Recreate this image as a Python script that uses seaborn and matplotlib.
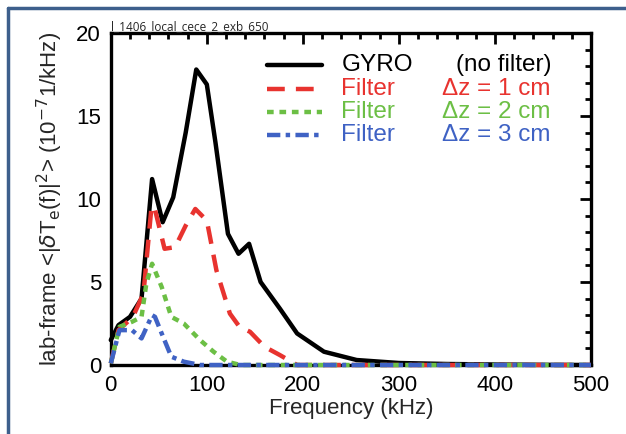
import matplotlib
matplotlib.use('Agg')
import matplotlib.pyplot as plt
from matplotlib.lines import Line2D
from matplotlib.ticker import MultipleLocator
import seaborn as sns

sns.set_style("white")
plt.rcParams['font.family'] = ['Liberation Sans', 'DejaVu Sans']

# spectra (kHz, 1e-7 1/kHz)
gyro_x = [0, 8, 20, 32, 43, 54, 65, 78, 89, 100, 109, 122, 133, 144, 156, 176, 194, 222, 256, 300, 350, 400, 450, 500]
gyro_y = [1.5, 2.4, 2.9, 4.0, 11.2, 8.6, 10.1, 14.0, 17.8, 16.9, 13.4, 7.9, 6.7, 7.3, 5.0, 3.4, 1.9, 0.8, 0.3, 0.12, 0.06, 0.03, 0.01, 0.0]

dz1_x = [0, 8, 23, 34, 42, 45, 56, 67, 78, 88, 100, 110, 124, 134, 145, 160, 176, 194, 250, 500]
dz1_y = [0.1, 2.1, 2.9, 4.3, 9.3, 9.6, 7.0, 7.1, 8.4, 9.4, 8.7, 5.7, 3.1, 2.3, 2.0, 1.1, 0.6, 0.0, 0.0, 0.0]

dz2_x = [0, 9, 22, 32, 37, 43, 53, 63, 76, 93, 107, 121, 135, 500]
dz2_y = [0.1, 2.3, 2.6, 2.9, 4.9, 6.1, 4.7, 2.9, 2.5, 1.5, 0.8, 0.2, 0.0, 0.0]

dz3_x = [0, 9, 22, 32, 43, 46, 53, 63, 76, 93, 500]
dz3_y = [0.1, 2.1, 2.1, 1.6, 3.0, 2.9, 1.9, 0.5, 0.2, 0.0, 0.0]

c_black = '#000000'
c_red = '#e8332f'
c_green = '#6cbf45'
c_blue = '#3f62c4'

fig = plt.figure(figsize=(6.26, 4.34), dpi=100)
ax = fig.add_axes([0.177, 0.159, 0.767, 0.765])

ax.tick_params(which='both', direction='in', top=True, right=True, width=2, colors='black')
for s in ax.spines.values():
    s.set_linewidth(2.4)
    s.set_color('black')
    s.set_zorder(2)

sns.lineplot(x=gyro_x, y=gyro_y, ax=ax, color=c_black, linewidth=3.2,
             estimator=None, clip_on=False, zorder=3)
sns.lineplot(x=dz1_x, y=dz1_y, ax=ax, color=c_red, linewidth=3.2,
             linestyle=(0, (4, 2.5)), estimator=None, clip_on=False, zorder=4)
sns.lineplot(x=dz2_x, y=dz2_y, ax=ax, color=c_green, linewidth=3.2,
             linestyle=(0, (1.5, 1.3)), estimator=None, clip_on=False, zorder=5)
sns.lineplot(x=dz3_x, y=dz3_y, ax=ax, color=c_blue, linewidth=3.2,
             linestyle=(0, (3, 1.2, 1, 1.2)), estimator=None, clip_on=False, zorder=6)

ax.set_xlim(0, 500)
ax.set_ylim(0, 20)
ax.xaxis.set_major_locator(MultipleLocator(100))
ax.xaxis.set_minor_locator(MultipleLocator(20))
ax.yaxis.set_major_locator(MultipleLocator(5))
ax.yaxis.set_minor_locator(MultipleLocator(1))
ax.tick_params(which='major', length=8, labelsize=16, pad=7)
ax.tick_params(which='minor', length=4)

ax.set_xlabel('Frequency (kHz)', fontsize=16, labelpad=2)
ax.set_ylabel(r'lab-frame <|$\delta$T$_\mathrm{e}$(f)|$^2$> (10$^{-7}$1/kHz)', fontsize=16, labelpad=8)
ax.set_title('l_1406_local_cece_2_exb_650', fontsize=8.5, loc='left', pad=2,
             family=['Open Sans', 'DejaVu Sans'])

# legend drawn by hand: two text columns
rows = [
    (c_black, '-', 'GYRO', '(no filter)', 0.719),
    (c_red, (0, (4, 2.5)), 'Filter', 'Δz = 1 cm', 0.689),
    (c_green, (0, (1.5, 1.3)), 'Filter', 'Δz = 2 cm', 0.689),
    (c_blue, (0, (3, 1.2, 1, 1.2)), 'Filter', 'Δz = 3 cm', 0.689),
]
row_y = [0.904, 0.832, 0.762, 0.692]
for (col, ls, t1, t2, x2), yy in zip(rows, row_y):
    ax.add_line(Line2D([0.326, 0.44], [yy, yy], transform=ax.transAxes,
                       color=col, linewidth=3.2, linestyle=ls))
    ax.text(0.48, yy, t1, transform=ax.transAxes, color=col, fontsize=17.5,
            va='center', ha='left')
    ax.text(x2, yy, t2, transform=ax.transAxes, color=col, fontsize=17.5,
            va='center', ha='left')

# dark blue frame at the top and left of the figure
frame = '#3d5f8c'
fig.add_artist(Line2D([0.013, 1.0], [0.982, 0.982], transform=fig.transFigure, color=frame, linewidth=2.5))
fig.add_artist(Line2D([0.013, 0.013], [0.0, 0.982], transform=fig.transFigure, color=frame, linewidth=2.5))

fig.savefig('out.png', dpi=100)
